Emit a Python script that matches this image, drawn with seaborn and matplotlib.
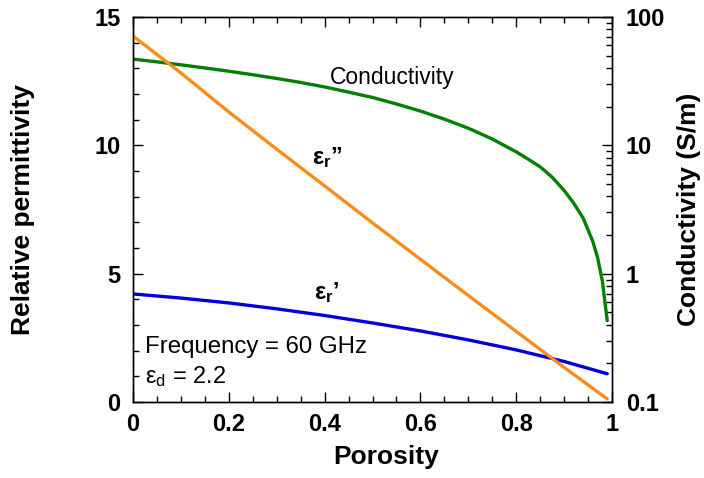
import matplotlib
matplotlib.use("Agg")
import matplotlib.pyplot as plt
import seaborn as sns
import pandas as pd
from matplotlib.ticker import MultipleLocator, LogLocator, NullFormatter, FixedLocator

# ---- data ----
eps_p = [0.0, 0.1, 0.2, 0.3, 0.4, 0.5, 0.6, 0.7, 0.8, 0.9, 0.99]
eps_real = [4.21, 4.05, 3.86, 3.63, 3.37, 3.08, 2.77, 2.42, 2.03, 1.58, 1.10]
eps_imag = [14.26, 12.82, 11.30, 9.85, 8.42, 6.98, 5.56, 4.15, 2.75, 1.35, 0.12]

cond_p = [0.0, 0.05, 0.1, 0.15, 0.2, 0.25, 0.3, 0.35, 0.4, 0.45, 0.5, 0.55,
          0.6, 0.65, 0.7, 0.75, 0.8, 0.825, 0.85, 0.875, 0.9, 0.92, 0.94,
          0.96, 0.97, 0.98, 0.99]
cond = [47.0, 44.7, 42.4, 40.1, 37.8, 35.5, 33.2, 30.9, 28.5, 26.0, 23.6, 21.0,
        18.5, 16.0, 13.6, 11.2, 8.9, 7.8, 6.8, 5.65, 4.45, 3.55, 2.7,
        1.78, 1.33, 0.87, 0.43]

x_ticks = [0, 0.2, 0.4, 0.6, 0.8, 1]
x_ticklabels = ["0", "0.2", "0.4", "0.6", "0.8", "1"]
y_ticks = [0, 5, 10, 15]
y2_ticks = [0.1, 1, 10, 100]
y2_ticklabels = ["0.1", "1", "10", "100"]

sns.set_theme(style="ticks")
plt.rcParams["font.family"] = ["Liberation Sans", "DejaVu Sans"]
plt.rcParams["mathtext.fontset"] = "custom"
plt.rcParams["mathtext.rm"] = "Liberation Sans"
plt.rcParams["mathtext.bf"] = "Liberation Sans:bold"
plt.rcParams["mathtext.it"] = "Liberation Sans:italic"
plt.rcParams["text.color"] = "black"
plt.rcParams["axes.labelcolor"] = "black"

W, H = 704, 478
fig = plt.figure(figsize=(W / 100, H / 100), dpi=100)
ax = fig.add_axes([133 / W, (H - 402) / H, 479 / W, 385 / H])
ax2 = ax.twinx()

blue = "#0000dd"
orange = "#ff8c1a"
green = "#008000"

df_eps = pd.DataFrame({"p": eps_p, "real": eps_real, "imag": eps_imag})
df_cond = pd.DataFrame({"p": cond_p, "cond": cond})

sns.lineplot(data=df_eps, x="p", y="real", ax=ax, color=blue, lw=2.4)
sns.lineplot(data=df_eps, x="p", y="imag", ax=ax, color=orange, lw=2.4)
sns.lineplot(data=df_cond, x="p", y="cond", ax=ax2, color=green, lw=2.4)

ax.set_xlim(0, 1)
ax.set_ylim(0, 15)
ax2.set_yscale("log")
ax2.set_ylim(0.1, 100)

for a in (ax, ax2):
    for s in a.spines.values():
        s.set_linewidth(1.0)
        s.set_color("black")

ax.xaxis.set_major_locator(FixedLocator(x_ticks))
ax.set_xticklabels(x_ticklabels)
ax.xaxis.set_minor_locator(MultipleLocator(0.05))
ax.yaxis.set_major_locator(FixedLocator(y_ticks))
ax.yaxis.set_minor_locator(MultipleLocator(1))

ax2.yaxis.set_major_locator(FixedLocator(y2_ticks))
ax2.set_yticklabels(y2_ticklabels)
ax2.yaxis.set_minor_locator(LogLocator(base=10, subs=range(2, 10)))
ax2.yaxis.set_minor_formatter(NullFormatter())

tick_fs = 17
ax.tick_params(axis="x", which="both", direction="in", top=True, bottom=True,
               labelsize=tick_fs, pad=8, colors="black")
ax.tick_params(axis="y", which="both", direction="in", left=True, right=False,
               labelsize=tick_fs, pad=9, colors="black")
ax.tick_params(which="major", length=7, width=1)
ax.tick_params(which="minor", length=4, width=1)
ax2.tick_params(axis="y", which="both", direction="in", right=True,
                labelsize=tick_fs, pad=10, colors="black")
ax2.tick_params(which="major", length=7, width=1)
ax2.tick_params(which="minor", length=4, width=1)

for lab in ax.get_xticklabels() + ax.get_yticklabels() + ax2.get_yticklabels():
    lab.set_fontweight("bold")

lab_fs = 19
ax.set_xlabel("Porosity", fontsize=lab_fs, fontweight="bold")
ax.set_ylabel("Relative permittivity", fontsize=lab_fs, fontweight="bold")
ax2.set_ylabel("Conductivity (S/m)", fontsize=lab_fs, fontweight="bold")
ax.xaxis.set_label_coords(0.528, -0.112)
ax.yaxis.set_label_coords(-0.205, 0.5)
ax2.yaxis.set_label_coords(1.136, 0.5)

# annotations
ax.text(0.541, 0.844, "Conductivity", transform=ax.transAxes, fontsize=16.5,
        ha="center", va="center")
ax.text(0.405, 0.634, "$\\mathbf{ε_r}$\u201d", transform=ax.transAxes, fontsize=17,
        fontweight="bold", ha="center", va="center")
ax.text(0.405, 0.283, "$\\mathbf{ε_r}$\u2019", transform=ax.transAxes, fontsize=17,
        fontweight="bold", ha="center", va="center")
ax.text(0.025, 0.143, "Frequency = 60 GHz", transform=ax.transAxes, fontsize=17.3,
        ha="left", va="center")
ax.text(0.025, 0.065, "$\\mathrm{ε_d}$ = 2.2", transform=ax.transAxes, fontsize=17,
        ha="left", va="center")

ax.set_zorder(ax2.get_zorder() + 1)
ax.patch.set_visible(False)

fig.savefig("out.png", dpi=100)
